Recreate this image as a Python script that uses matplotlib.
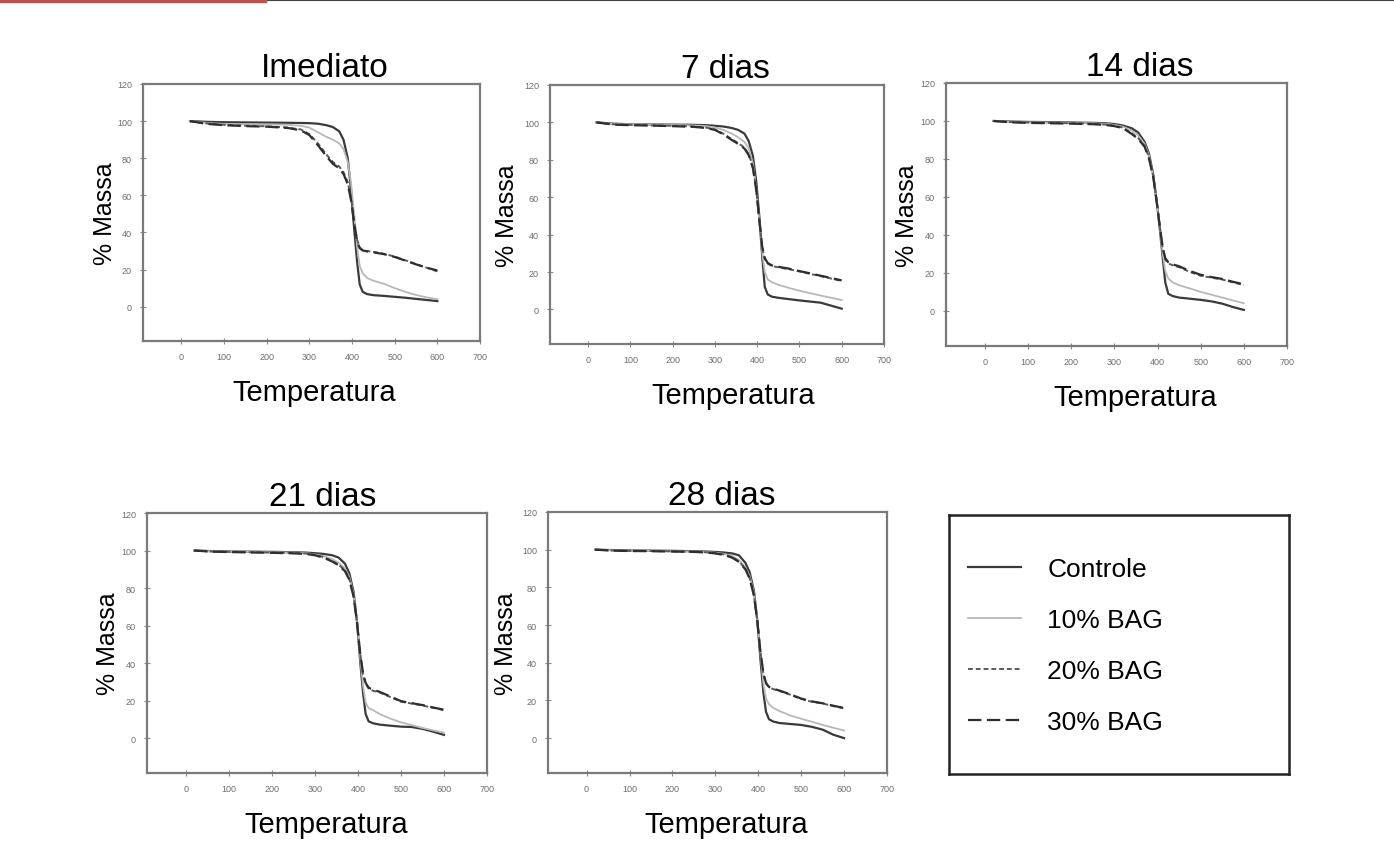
import matplotlib.pyplot as plt
from matplotlib.lines import Line2D

plt.rcParams['font.family'] = ['Liberation Sans', 'DejaVu Sans']

# temperature grid (shared by all curves)
temps = [20, 60, 100, 150, 200, 250, 280, 300, 320, 340, 355, 370, 380, 390,
         398, 405, 412, 418, 425, 435, 450, 475, 500, 525, 550, 575, 600]

# % massa, Imediato
imed_ctrl = [100, 99.6, 99.4, 99.3, 99.2, 99.1, 99, 98.9, 98.6, 97.8, 96.8, 94.5, 90, 80,
             62, 42, 24, 12, 8, 6.8, 6.2, 5.8, 5.3, 4.8, 4.2, 3.6, 3]
imed_10 = [100, 99, 98.5, 98.3, 98.2, 98, 97.5, 96.5, 94, 91.5, 90, 88, 85, 78,
           66, 50, 32, 22, 18, 15.5, 14, 12.3, 10, 8, 6.3, 5, 4]
imed_20 = [100, 98.7, 98, 97.5, 97.2, 96.5, 95.5, 93, 88, 82, 78, 75.5, 72.5, 67,
           58, 46, 36, 32, 30.5, 30, 29.5, 28.5, 27, 25, 23, 21, 19]
imed_30 = [100, 98.5, 97.8, 97.3, 97, 96.3, 95, 92.5, 87, 81, 77, 74.5, 71.5, 66,
           57, 45, 35, 31.5, 30.3, 29.8, 29.3, 28.3, 26.8, 24.8, 22.8, 21, 19.5]

# 7 dias
d7_ctrl = [100, 99.3, 99, 98.9, 98.8, 98.7, 98.5, 98.2, 97.8, 97, 96, 94, 90, 82,
           68, 50, 28, 12, 8, 6.8, 6.2, 5.5, 4.8, 4.2, 3.6, 2, 0.4]
d7_10 = [100, 99.2, 99, 98.8, 98.6, 98.4, 98, 97.3, 96, 94, 92, 89.5, 86, 78,
         64, 48, 30, 20, 16, 14.5, 13.2, 11.5, 10, 8.7, 7.4, 6.2, 5]
d7_20 = [100, 99, 98.7, 98.4, 98.2, 97.8, 97.2, 96.2, 94, 91, 89, 86.5, 83, 76,
         64, 48, 33, 27, 24.5, 23.2, 22.5, 21.5, 20.3, 19, 17.8, 16.5, 15.2]
d7_30 = [100, 98.8, 98.5, 98.3, 98, 97.6, 97, 96, 93.6, 90.6, 88.5, 86, 82.5, 75.5,
         63.5, 48, 33.5, 27.5, 24.8, 23.5, 22.8, 21.8, 20.5, 19.3, 18, 16.8, 15.5]

# 14 dias
d14_ctrl = [100, 99.7, 99.5, 99.4, 99.2, 99, 98.8, 98.4, 97.6, 96.2, 94, 89, 83, 72,
            58, 44, 28, 15, 9, 7.8, 7, 6.4, 5.8, 5, 3.8, 2, 0.5]
d14_10 = [100, 99.5, 99.3, 99.2, 99, 98.8, 98.5, 98, 97, 95, 92.5, 88, 82, 71,
          58, 44, 30, 21, 17, 15, 13.5, 11.8, 10, 8.5, 7, 5.5, 4]
d14_20 = [100, 99.4, 99.2, 99, 98.8, 98.5, 98.1, 97.5, 96.5, 93.5, 91, 87, 81, 71,
          58, 45, 33, 27, 25, 24, 23, 20.5, 18.5, 17.5, 16.5, 15, 13.6]
d14_30 = [100, 99.3, 99, 98.8, 98.6, 98.3, 97.9, 97.3, 96.2, 93.2, 90.6, 86.5, 80.5, 70.5,
          57.5, 45, 33.5, 27.8, 25.6, 24.5, 23.5, 21, 19, 17.8, 16.8, 15.3, 14]

# 21 dias
d21_ctrl = [100, 99.7, 99.5, 99.4, 99.3, 99.1, 98.9, 98.6, 98.2, 97.5, 96.3, 93, 88, 78,
            62, 42, 24, 13, 9, 8, 7.3, 6.7, 6.2, 6, 5, 3.5, 1.8]
d21_10 = [100, 99.6, 99.4, 99.3, 99.1, 98.9, 98.6, 98, 97, 95.5, 93.5, 90.5, 86, 77,
          62, 44, 28, 19, 16, 15, 13, 10.5, 8.5, 7, 5.5, 4.2, 3]
d21_20 = [100, 99.5, 99.3, 99.1, 98.9, 98.7, 98.4, 97.8, 96.5, 94.5, 92.5, 89.5, 85, 76,
          62, 46, 34, 29, 26.5, 25.3, 24.5, 22, 19.5, 18.5, 17.5, 16.2, 15]
d21_30 = [100, 99.4, 99.2, 99, 98.8, 98.5, 98.2, 97.5, 96.2, 94.2, 92.2, 89, 84.5, 75.5,
          61.5, 46, 34.5, 29.5, 27, 25.8, 24.8, 22.3, 19.8, 18.7, 17.7, 16.4, 15.2]

# 28 dias
d28_ctrl = [100, 99.8, 99.6, 99.5, 99.4, 99.2, 99, 98.8, 98.5, 98, 97, 93, 88, 78,
            62, 42, 24, 14, 10, 8.8, 8, 7.5, 7, 6, 4.5, 1.8, 0]
d28_10 = [100, 99.7, 99.5, 99.4, 99.2, 99, 98.7, 98.4, 97.8, 96.6, 94.5, 90.5, 86, 77,
          62, 45, 29, 21, 18, 16, 14.3, 12, 10.3, 8.7, 7, 5.5, 4]
d28_20 = [100, 99.6, 99.4, 99.3, 99.1, 98.9, 98.6, 98.2, 97.5, 96, 93.8, 90, 85, 76,
          62, 46, 34, 29, 27, 26, 25, 23, 20.8, 19.3, 18.4, 17, 15.8]
d28_30 = [100, 99.5, 99.3, 99.2, 99, 98.8, 98.5, 98, 97.2, 95.7, 93.5, 89.6, 84.6, 75.5,
          61.5, 46, 34.5, 29.3, 27.2, 26.2, 25.2, 23.2, 21, 19.5, 18.5, 17.2, 16]

titles = ["Imediato", "7 dias", "14 dias", "21 dias", "28 dias"]
panels = [
    (imed_ctrl, imed_10, imed_20, imed_30),
    (d7_ctrl, d7_10, d7_20, d7_30),
    (d14_ctrl, d14_10, d14_20, d14_30),
    (d21_ctrl, d21_10, d21_20, d21_30),
    (d28_ctrl, d28_10, d28_20, d28_30),
]
series_labels = ["Controle", "10% BAG", "20% BAG", "30% BAG"]
x_ticks = [0, 100, 200, 300, 400, 500, 600, 700]
y_ticks = [0, 20, 40, 60, 80, 100, 120]

styles = [
    dict(color="#3a3a3a", lw=1.6, ls="-"),
    dict(color="#b8b8b8", lw=1.3, ls="-"),
    dict(color="#5a5a5a", lw=1.4, ls=(0, (2.5, 1.5))),
    dict(color="#2e2e2e", lw=1.6, ls=(0, (6, 2.5))),
]

W, H = 1394, 853
fig = plt.figure(figsize=(W / 100, H / 100), dpi=100)

# axes boxes in pixels: left, top, right, bottom
boxes = [(143, 85, 480, 342), (550, 86, 884, 345), (946, 84, 1287, 347),
         (147, 514, 487, 774), (548, 513, 887, 774)]
# centres of title / xlabel and right edge of ylabel (pixels)
title_x = [325, 725, 1140, 323, 722]
xlab_x = [314, 733, 1135, 326, 726]
ylab_x = [117, 519, 919, 120, 518]

for i, ((l, t, r, b), title, data) in enumerate(zip(boxes, titles, panels)):
    ax = fig.add_axes([l / W, 1 - b / H, (r - l) / W, (b - t) / H])
    for vals, st in zip(data, styles):
        ax.plot(temps, vals, **st)
    ax.set_xlim(-90, 700)
    ax.set_ylim(-18.5, 120)
    ax.set_xticks(x_ticks)
    ax.set_yticks(y_ticks)
    ax.tick_params(direction="inout", length=4, width=0.8, colors="#8a8a8a",
                   labelsize=6.5, labelcolor="#6e6e6e", pad=6)
    for sp in ax.spines.values():
        sp.set_color("#7a7a7a")
        sp.set_linewidth(1.6)
    ax.set_title(title, fontsize=24, pad=6, x=(title_x[i] - l) / (r - l))
    ax.set_xlabel("Temperatura", fontsize=21, labelpad=12, x=(xlab_x[i] - l) / (r - l))
    ax.set_ylabel("% Massa", fontsize=18)
    ax.yaxis.set_label_coords((ylab_x[i] - l) / (r - l), 0.5)

# legend box
lax = fig.add_axes([949 / W, 1 - 775 / H, 340 / W, 259 / H])
lax.set_xticks([])
lax.set_yticks([])
for sp in lax.spines.values():
    sp.set_color("#222222")
    sp.set_linewidth(1.8)
handles = [Line2D([], [], **st) for st in styles]
lax.legend(handles, series_labels, loc="upper left",
           bbox_to_anchor=(968 / W, 1 - 558 / H), bbox_transform=fig.transFigure,
           frameon=False, fontsize=19, handlelength=2.0, handletextpad=1.0,
           labelspacing=1.02, borderpad=0, borderaxespad=0)

# slide header rule
fig.add_artist(Line2D([0, 1], [0.999, 0.999], color="#444444", lw=1.5))
fig.add_artist(Line2D([0, 265 / W], [0.998, 0.998], color="#c0504d", lw=2.5))

fig.savefig("out.png", dpi=100)
